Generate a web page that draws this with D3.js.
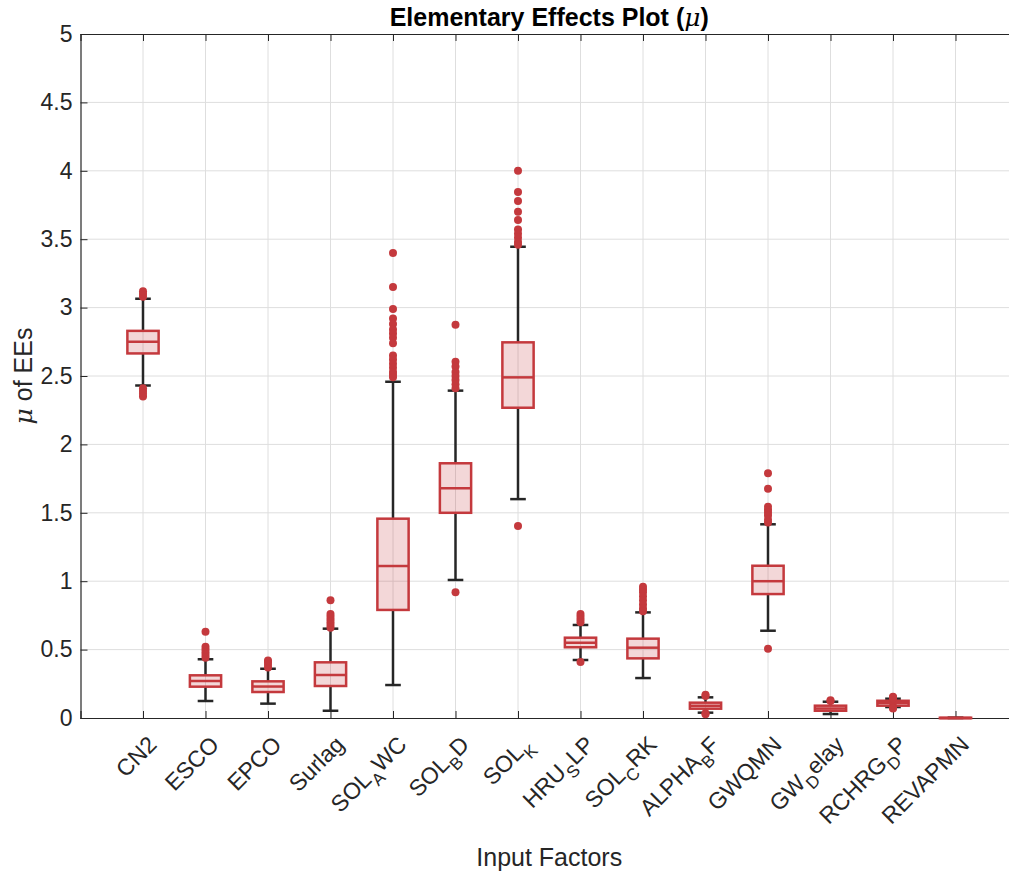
<!DOCTYPE html>
<html>
<head>
<meta charset="utf-8">
<script src="https://cdn.jsdelivr.net/npm/d3@7"></script>
<style>
  html, body { margin: 0; padding: 0; background: #fff; }
  svg { display: block; font-family: "Liberation Sans", Arial, Helvetica, sans-serif; }
</style>
</head>
<body>
<svg id="chart" width="1009" height="872"></svg>
<script>
// ---------- data ----------
const categories = ["CN2","ESCO","EPCO","Surlag","SOL_AWC","SOL_BD","SOL_K","HRU_SLP","SOL_CRK","ALPHA_BF","GWQMN","GW_Delay","RCHRG_DP","REVAPMN"];
// label parts: [main, subscript, rest]
const labelParts = [["CN2","",""],["ESCO","",""],["EPCO","",""],["Surlag","",""],["SOL","A","WC"],["SOL","B","D"],["SOL","K",""],["HRU","S","LP"],["SOL","C","RK"],["ALPHA","B","F"],["GWQMN","",""],["GW","D","elay"],["RCHRG","D","P"],["REVAPMN","",""]];
const q1       = [2.665, 0.229, 0.19, 0.234, 0.79, 1.50, 2.268, 0.517, 0.436, 0.068, 0.906, 0.053, 0.09, 0.0];
const medians  = [2.75, 0.27, 0.23, 0.314, 1.111, 1.679, 2.49, 0.55, 0.514, 0.09, 1.0, 0.07, 0.11, 0.0];
const q3       = [2.83, 0.312, 0.268, 0.407, 1.457, 1.862, 2.746, 0.587, 0.58, 0.112, 1.113, 0.09, 0.126, 0.002];
const whiskLow = [2.43, 0.124, 0.105, 0.053, 0.241, 1.009, 1.60, 0.424, 0.292, 0.039, 0.638, 0.029, 0.08, 0.0];
const whiskHigh= [3.065, 0.43, 0.36, 0.653, 2.458, 2.393, 3.445, 0.68, 0.772, 0.151, 1.416, 0.119, 0.141, 0.002];
const outliers = [
  [3.08, 3.10, 3.12, 2.41, 2.39, 2.37, 2.35],
  [0.44, 0.46, 0.48, 0.50, 0.52, 0.63],
  [0.37, 0.39, 0.41, 0.42],
  [0.66, 0.68, 0.70, 0.72, 0.74, 0.76, 0.86],
  [3.40, 3.15, 2.99, 2.92, 2.88, 2.84, 2.81, 2.78, 2.74, 2.65, 2.62, 2.59, 2.56, 2.53, 2.51, 2.49],
  [2.875, 2.605, 2.57, 2.53, 2.50, 2.47, 2.44, 2.41, 0.92],
  [4.0, 3.845, 3.78, 3.70, 3.64, 3.57, 3.54, 3.51, 3.48, 3.46, 1.404],
  [0.76, 0.74, 0.72, 0.70, 0.41],
  [0.96, 0.94, 0.92, 0.89, 0.86, 0.83, 0.80, 0.78],
  [0.17, 0.16, 0.035, 0.028],
  [1.789, 1.676, 1.545, 1.52, 1.50, 1.48, 1.45, 1.43, 0.507],
  [0.13, 0.125],
  [0.15, 0.155, 0.145, 0.085, 0.075, 0.07],
  []
];
const yTicks = [0, 0.5, 1, 1.5, 2, 2.5, 3, 3.5, 4, 4.5, 5];

// ---------- layout ----------
const svg = d3.select("#chart");
const plotLeft = 80.5, plotTop = 34, plotBottom = 718;
const unitX = 62.5;
const plotRight = plotLeft + 15 * unitX;
const plotMid = (plotLeft + plotRight) / 2;

const x = d3.scaleLinear().domain([0, 15]).range([plotLeft, plotRight]);
const y = d3.scaleLinear().domain([0, 5]).range([plotBottom, plotTop]);

const red = "#c4393d";
const fill = "rgba(196,57,61,0.2)";
const dark = "#262626";
const sans = '"Liberation Sans", Arial, Helvetica, sans-serif';
const serif = '"DejaVu Serif", "Liberation Serif", serif';

svg.append("defs").append("clipPath").attr("id", "clip")
  .append("rect").attr("x", plotLeft).attr("y", plotTop - 6)
  .attr("width", plotRight - plotLeft).attr("height", plotBottom - plotTop + 12);

// grid
const grid = svg.append("g");
grid.selectAll("line.gy").data(yTicks.slice(1, -1)).join("line")
  .attr("x1", plotLeft).attr("x2", plotRight)
  .attr("y1", d => y(d)).attr("y2", d => y(d))
  .attr("stroke", "#dedede").attr("stroke-width", 1);
grid.selectAll("line.gx").data(categories).join("line")
  .attr("x1", (d, i) => x(i + 1)).attr("x2", (d, i) => x(i + 1))
  .attr("y1", plotTop).attr("y2", plotBottom)
  .attr("stroke", "#dedede").attr("stroke-width", 1);

// axes
const yAxis = d3.axisLeft(y).tickValues(yTicks).tickSize(-7).tickPadding(8)
  .tickFormat(d => String(d));
const gy = svg.append("g").attr("transform", `translate(${plotLeft},0)`).call(yAxis);
gy.select(".domain").attr("stroke", dark).attr("stroke-width", 1.2);
gy.selectAll(".tick line").attr("stroke", dark);
gy.selectAll(".tick text").attr("fill", dark).attr("font-size", 23)
  .attr("font-family", sans);

const xAxis = d3.axisBottom(x).tickValues(d3.range(1, 15)).tickSize(-7).tickFormat("");
const gx = svg.append("g").attr("transform", `translate(0,${plotBottom})`).call(xAxis);
gx.select(".domain").attr("stroke", dark).attr("stroke-width", 1.2);
gx.selectAll(".tick line").attr("stroke", dark);

const xTop = d3.axisTop(x).tickValues(d3.range(1, 15)).tickSize(-7).tickFormat("");
const gt = svg.append("g").attr("transform", `translate(0,${plotTop})`).call(xTop);
gt.select(".domain").attr("stroke", dark).attr("stroke-width", 1.2);
gt.selectAll(".tick line").attr("stroke", dark);

const yRight = d3.axisRight(y).tickValues(yTicks).tickSize(-7).tickFormat("");
const gr = svg.append("g").attr("transform", `translate(${plotRight},0)`).call(yRight);
gr.select(".domain").attr("stroke", dark).attr("stroke-width", 1.2);
gr.selectAll(".tick line").attr("stroke", dark);

// x tick labels (rotated, with subscripts)
const labG = svg.append("g");
labelParts.forEach((p, i) => {
  const t = labG.append("text")
    .attr("transform", `translate(${x(i + 1) + 15},${plotBottom + 28}) rotate(-45)`)
    .attr("text-anchor", "end")
    .attr("font-size", 23)
    .attr("font-family", sans)
    .attr("fill", dark);
  t.append("tspan").text(p[0]);
  if (p[1]) {
    t.append("tspan").attr("font-size", 17).attr("dy", 8).text(p[1]);
    t.append("tspan").attr("dy", -8).text(p[2]);
  }
});

// boxes
const boxW = 0.5 * unitX, capW = 0.25 * unitX;
const plot = svg.append("g").attr("clip-path", "url(#clip)");
const groups = plot.selectAll("g.box").data(categories).join("g").attr("class", "box");

groups.each(function (d, i) {
  const g = d3.select(this);
  const cx = x(i + 1);
  g.append("line").attr("x1", cx).attr("x2", cx)
    .attr("y1", y(whiskLow[i])).attr("y2", y(q1[i]))
    .attr("stroke", dark).attr("stroke-width", 2.5);
  g.append("line").attr("x1", cx).attr("x2", cx)
    .attr("y1", y(q3[i])).attr("y2", y(whiskHigh[i]))
    .attr("stroke", dark).attr("stroke-width", 2.5);
  [whiskLow[i], whiskHigh[i]].forEach(v => {
    g.append("line").attr("x1", cx - capW / 2).attr("x2", cx + capW / 2)
      .attr("y1", y(v)).attr("y2", y(v))
      .attr("stroke", dark).attr("stroke-width", 2.5);
  });
  const top = y(q3[i]), bot = y(q1[i]);
  g.append("rect").attr("x", cx - boxW / 2).attr("width", boxW)
    .attr("y", top).attr("height", Math.max(bot - top, 0.5))
    .attr("fill", fill).attr("stroke", red).attr("stroke-width", 2.5);
  g.append("line").attr("x1", cx - boxW / 2).attr("x2", cx + boxW / 2)
    .attr("y1", y(medians[i])).attr("y2", y(medians[i]))
    .attr("stroke", red).attr("stroke-width", 2.5);
  g.selectAll("circle").data(outliers[i]).join("circle")
    .attr("cx", cx).attr("cy", v => y(v)).attr("r", 4)
    .attr("fill", red);
});

// title
const title = svg.append("text").attr("x", plotMid).attr("y", 26)
  .attr("text-anchor", "middle").attr("font-size", 25).attr("font-weight", "bold")
  .attr("font-family", sans).attr("fill", "#000");
title.append("tspan").text("Elementary Effects Plot (");
title.append("tspan").attr("font-style", "italic").attr("font-weight", "normal")
  .attr("font-family", serif).text("μ");
title.append("tspan").text(")");

// y label
const yl = svg.append("text")
  .attr("transform", `translate(32,${(plotTop + plotBottom) / 2}) rotate(-90)`)
  .attr("text-anchor", "middle").attr("font-size", 25).attr("font-family", sans).attr("fill", dark);
yl.append("tspan").attr("font-style", "italic").attr("font-family", serif).text("μ");
yl.append("tspan").text(" of EEs");

// x label
svg.append("text").attr("x", plotMid).attr("y", 866)
  .attr("text-anchor", "middle").attr("font-size", 25).attr("font-family", sans).attr("fill", dark)
  .text("Input Factors");
</script>
</body>
</html>
